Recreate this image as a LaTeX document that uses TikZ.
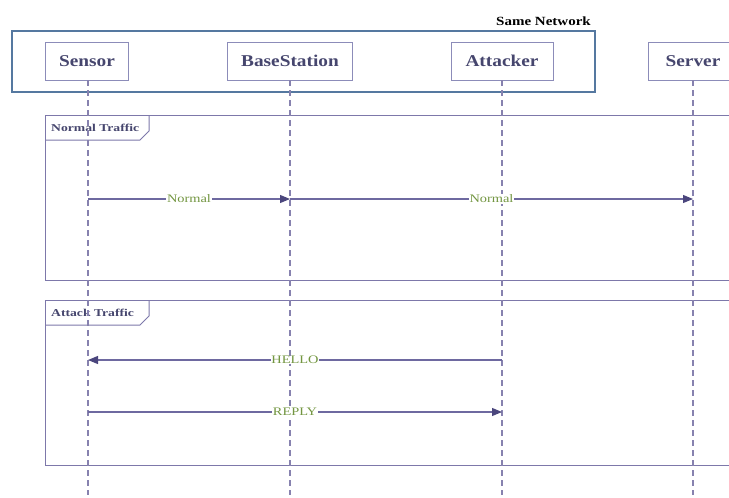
\documentclass[tikz,border=0pt]{standalone}
\usepackage{fontspec}
\usepackage{graphicx}
\setmainfont{Liberation Serif}
\usetikzlibrary{arrows.meta}
\definecolor{boxline}{RGB}{140,140,185}
\definecolor{boxtext}{RGB}{70,70,110}
\definecolor{msgline}{RGB}{110,105,160}
\definecolor{lifeline}{RGB}{135,130,175}
\definecolor{headcol}{RGB}{75,70,125}
\definecolor{netline}{RGB}{85,120,160}
\definecolor{labgreen}{RGB}{115,150,65}
\definecolor{frameline}{RGB}{125,120,170}
\newcommand{\sxx}[2]{\scalebox{#1}[1]{#2}}
\tikzset{
  x=1pt,y=-1pt,
  actor/.style={draw=boxline,line width=0.9pt,fill=white,minimum height=38pt,inner xsep=0pt,
    font=\fontsize{16.5}{16.5}\selectfont\bfseries,text=boxtext},
  life/.style={draw=lifeline,line width=1.3pt,dash pattern=on 6pt off 4pt},
  msg/.style={draw=msgline,line width=1.1pt,-{Triangle[length=10pt,width=8pt,color=headcol]}},
  msglab/.style={fill=white,inner sep=0.6pt,text=labgreen,font=\fontsize{11.5}{11.5}\selectfont},
  frm/.style={draw=frameline,line width=1pt},
  tablab/.style={anchor=west,inner sep=0pt,text=boxtext,font=\fontsize{10.5}{10.5}\selectfont\bfseries},
}
\begin{document}
\begin{tikzpicture}
\useasboundingbox[fill=white] (0,0) rectangle (729,498);
% same network frame
\draw[draw=netline,line width=1.2pt] (12,31) rectangle (595,92);
\node[anchor=south east,inner sep=0pt,font=\fontsize{12.5}{12.5}\selectfont\bfseries] (netlab) at (591,26) {\sxx{1.2}{Same Network}};
% frames
\draw[frm] (760,115) -- (45,115) -- (45,280) -- (760,280);
\draw[frm] (45,140) -- (140,140) -- (149,131) -- (149,115);
\node[tablab] (ntlab) at (51,128) {\sxx{1.3}{Normal Traffic}};
\draw[frm] (760,300) -- (45,300) -- (45,465) -- (760,465);
\draw[frm] (45,325) -- (140,325) -- (149,316) -- (149,300);
\node[tablab] (atlab) at (51,313) {\sxx{1.3}{Attack Traffic}};
% actors
\node[actor,minimum width=83pt] (sensor) at (87,61) {\sxx{1.17}{Sensor}};
\node[actor,minimum width=125pt] (base) at (290,61) {\sxx{1.17}{BaseStation}};
\node[actor,minimum width=102pt] (att) at (502,61) {\sxx{1.17}{Attacker}};
\node[actor,minimum width=90pt] (srv) at (693,61) {\sxx{1.17}{Server}};
% lifeline ends
\coordinate (sE) at (88,495);
\coordinate (bE) at (290,495);
\coordinate (aE) at (502,495);
\coordinate (vE) at (693,495);
% lifelines
\draw[life] (sensor.south -| sE) -- (sE);
\draw[life] (base.south) -- (bE);
\draw[life] (att.south) -- (aE);
\draw[life] (srv.south) -- (vE);
% messages
\coordinate (s1) at (88,199);
\coordinate (b1) at (290,199);
\coordinate (v1) at (693,199);
\coordinate (s2) at (88,360);
\coordinate (a2) at (502,360);
\coordinate (s3) at (88,412);
\coordinate (a3) at (502,412);
\draw[msg] (s1) -- node[msglab,pos=0.5] (l1) {\sxx{1.25}{Normal}} (b1);
\draw[msg] (b1) -- node[msglab,pos=0.5] (l2) {\sxx{1.25}{Normal}} (v1);
\draw[msg] (a2) -- node[msglab,pos=0.5] (l3) {\sxx{1.25}{HELLO}} (s2);
\draw[msg] (s3) -- node[msglab,pos=0.5] (l4) {\sxx{1.25}{REPLY}} (a3);
\end{tikzpicture}
\end{document}
